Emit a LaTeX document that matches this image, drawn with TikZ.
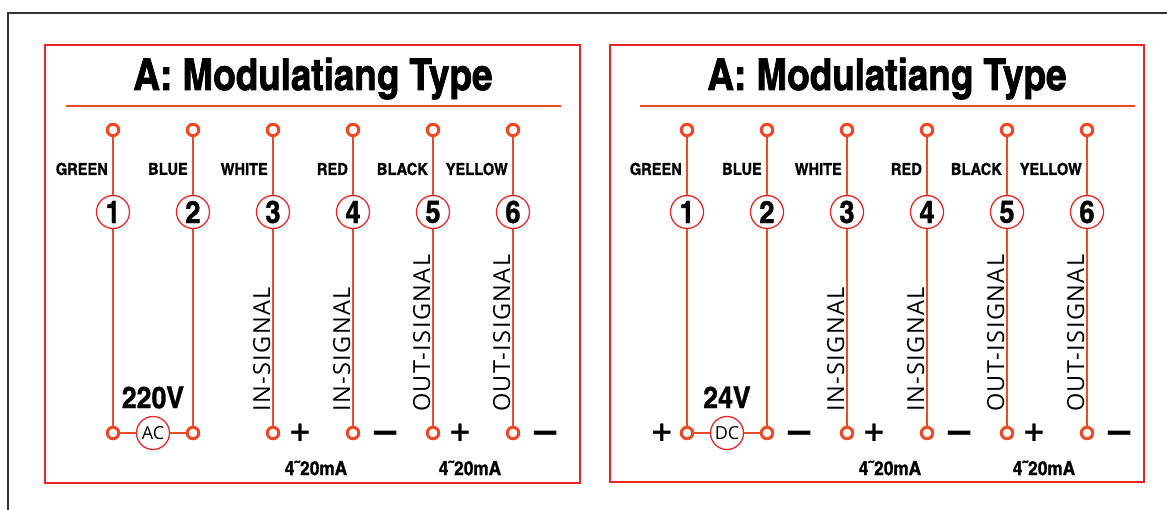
\documentclass[tikz,border=0pt]{standalone}
\usepackage{fontspec}
\setmainfont{Open Sans}
\newfontfamily\titlefont{texgyreheroscn-bold.otf}[FakeBold=1.6, FakeStretch=1.02]
\newfontfamily\condfont{texgyreheroscn-bold.otf}[FakeBold=1.0, FakeStretch=1.08]
\newfontfamily\signalfont{Open Sans}[LetterSpace=6]
\newfontfamily\signfont{DejaVu Sans Bold}
\usetikzlibrary{positioning}
\definecolor{boxred}{HTML}{E8262A}
\definecolor{wirered}{HTML}{EC4A25}
\definecolor{framegrey}{HTML}{333333}
\tikzset{
        frame/.style={draw=framegrey, line width=1.6pt},
        panel/.style={draw=boxred, line width=1.4pt},
        wire/.style={draw=wirered, line width=1.5pt},
        term/.style={circle, draw=wirered, line width=3pt, fill=white, inner sep=0pt, minimum size=11.5pt},
        pin/.style={circle, draw=boxred, line width=1.3pt, fill=white, inner sep=0pt, minimum size=33pt,
          font=\condfont\fontsize{31}{31}\selectfont},
        supply/.style={circle, draw=boxred, line width=1.3pt, fill=white, inner sep=0pt, minimum size=33pt,
          font=\fontsize{18}{18}\selectfont},
        title/.style={anchor=base, inner sep=0pt, font=\titlefont\fontsize{44}{44}\selectfont},
        colour/.style={anchor=east, inner sep=0pt, font=\condfont\fontsize{16.5}{16.5}\selectfont},
        volts/.style={anchor=base, inner sep=0pt, font=\condfont\fontsize{30}{30}\selectfont},
        current/.style={inner sep=0pt, font=\condfont\fontsize{19.5}{19.5}\selectfont},
        signal/.style={rotate=90, anchor=base west, inner sep=0pt, font=\signalfont\fontsize{23.5}{23.5}\selectfont},
        plus/.style={inner sep=0pt, font=\signfont\fontsize{28}{28}\selectfont},
        minus/.style={inner sep=0pt, yshift=-5pt, font=\signfont\fontsize{36}{36}\selectfont}
          }

\begin{document}
\begin{tikzpicture}[x=1pt, y=-1pt]
        \useasboundingbox (0,0) rectangle (1167,510);
        % outer frame and the two panels
        \draw[frame] (1167,13) -- (8,13) -- (8,510);
        \draw[panel] (45,45) rectangle (580,483);
        \draw[panel] (610,45) rectangle (1144,482);
        \foreach \p/\xo/\volt/\kind in {a/0/220V/AC, d/574/24V/DC}{
          \begin{scope}[xshift=\xo]
            \node[title] (\p title) at (313,90) {A: Modulatiang Type};
            \draw[wire] (66,106) -- (561,106);
            \foreach \i/\col in {1/GREEN, 2/BLUE, 3/WHITE, 4/RED, 5/BLACK, 6/YELLOW}{
              \node[term] (\p top\i) at ({113+80*(\i-1)},130) {};
              \node[pin] (\p pin\i) at ({113+80*(\i-1)},212) {\i};
              \node[term] (\p bot\i) at ({113+80*(\i-1)},433) {};
              \node[colour] (\p col\i) at ({108+80*(\i-1)},169) {\col};
              \draw[wire] (\p top\i) -- (\p pin\i) -- (\p bot\i);
            }
            % supply between terminals 1 and 2
            \node[supply] (\p supply) at (153,433) {\kind};
            \draw[wire] (\p bot1) -- (\p supply) -- (\p bot2);
            \node[volts] (\p volts) at (153,408) {\volt};
            % signal terminals
            \node[signal] (\p sig3) at (270,412) {IN-SIGNAL};
            \node[signal] (\p sig4) at (350,412) {IN-SIGNAL};
            \node[signal] (\p sig5) at (430,412) {OUT-ISIGNAL};
            \node[signal] (\p sig6) at (510,412) {OUT-ISIGNAL};
            \node[plus, right=8pt of \p bot3] (\p plus3) {+};
            \node[minus, right=10pt of \p bot4] (\p minus4) {−};
            \node[plus, right=8pt of \p bot5] (\p plus5) {+};
            \node[minus, right=10pt of \p bot6] (\p minus6) {−};
            \node[current] (\p mA34) at (316,468) {4˜20mA};
            \node[current] (\p mA56) at (470,468) {4˜20mA};
          \end{scope}
        }
        % DC supply polarity
        \node[plus, left=6pt of dbot1] (dplus1) {+};
        \node[minus, right=10pt of dbot2] (dminus2) {−};
\end{tikzpicture}
\end{document}
